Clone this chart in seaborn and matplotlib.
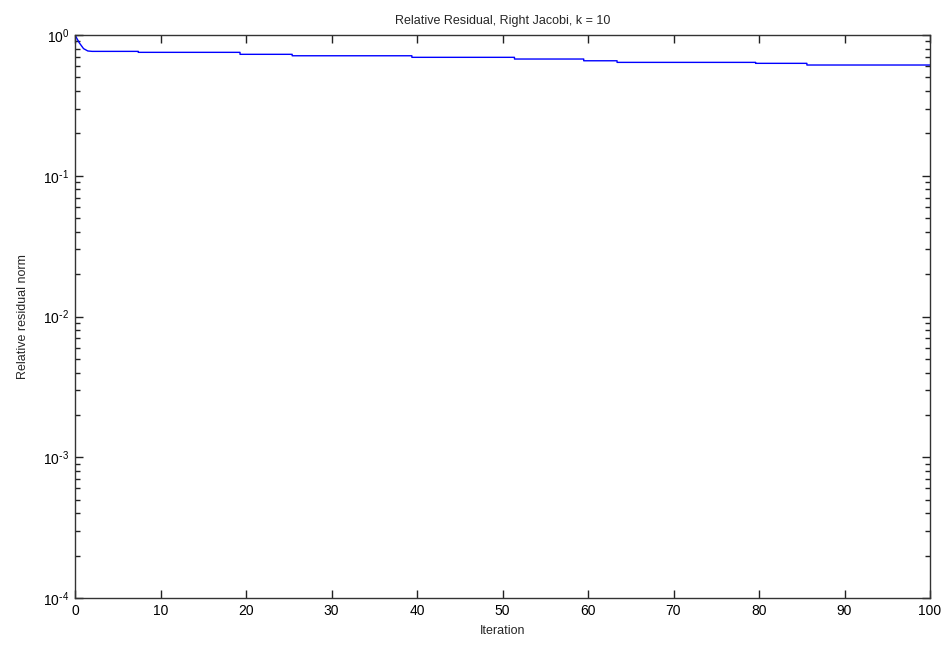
import matplotlib
matplotlib.use("Agg")
import matplotlib.pyplot as plt
import matplotlib.ticker as mticker
import seaborn as sns
import pandas as pd
import numpy as np

# Data (step-wise residual history)
iterations = [0, 0.5, 1.0, 1.5, 2.0, 7.4, 7.4, 19.3, 19.3, 25.4, 25.4, 39.4, 39.4,
              51.4, 51.4, 59.5, 59.5, 63.4, 63.4, 79.6, 79.6, 85.6, 85.6, 100]
residuals = [1.0, 0.88, 0.80, 0.77, 0.765, 0.765, 0.753, 0.753, 0.729, 0.729, 0.712, 0.712, 0.694,
             0.694, 0.675, 0.675, 0.656, 0.656, 0.639, 0.639, 0.629, 0.629, 0.612, 0.612]
title = "Relative Residual, Right Jacobi, k = 10"
xlabel = "Iteration"
ylabel = "Relative residual norm"

sns.set_style("ticks")
plt.rcParams['font.family'] = ['Liberation Sans', 'DejaVu Sans']
plt.rcParams['mathtext.default'] = 'regular'
plt.rcParams['axes.unicode_minus'] = False

df = pd.DataFrame({"it": iterations, "res": residuals})

fig = plt.figure(figsize=(9.47, 6.47), dpi=100)
ax = fig.add_axes([75/947, 1-598/647, (930-75)/947, (598-35)/647])
sns.lineplot(data=df, x="it", y="res", ax=ax, color=(0, 0, 1), linewidth=1.0,
             estimator=None, sort=False)
ax.set_yscale("log")
ax.set_xlim(0, 100)
ax.set_ylim(1e-4, 1)
ax.set_xticks(np.arange(0, 101, 10))
ax.yaxis.set_major_locator(mticker.LogLocator(base=10, numticks=10))
ax.yaxis.set_minor_locator(mticker.LogLocator(base=10, subs=np.arange(2, 10), numticks=20))
ax.yaxis.set_minor_formatter(mticker.NullFormatter())


def fmt(v, pos):
    e = int(round(np.log10(v)))
    if e < 0:
        return r"$10^{\text{-}%d}$" % (-e)
    return r"$10^{%d}$" % e


ax.yaxis.set_major_formatter(mticker.FuncFormatter(fmt))
ax.tick_params(which="both", direction="in", top=True, right=True, colors="#222222",
               labelcolor="black", labelsize=10, width=1.0)
ax.tick_params(which="major", length=6, pad=4)
ax.tick_params(which="minor", length=3.5)
for s in ax.spines.values():
    s.set_visible(True)
    s.set_color("#333333")
    s.set_linewidth(1.0)
ax.set_title(title, fontsize=9, pad=8)
ax.set_xlabel(xlabel, fontsize=9, labelpad=5)
ax.set_ylabel(ylabel, fontsize=9, labelpad=10)
fig.savefig("out.png", dpi=100)
